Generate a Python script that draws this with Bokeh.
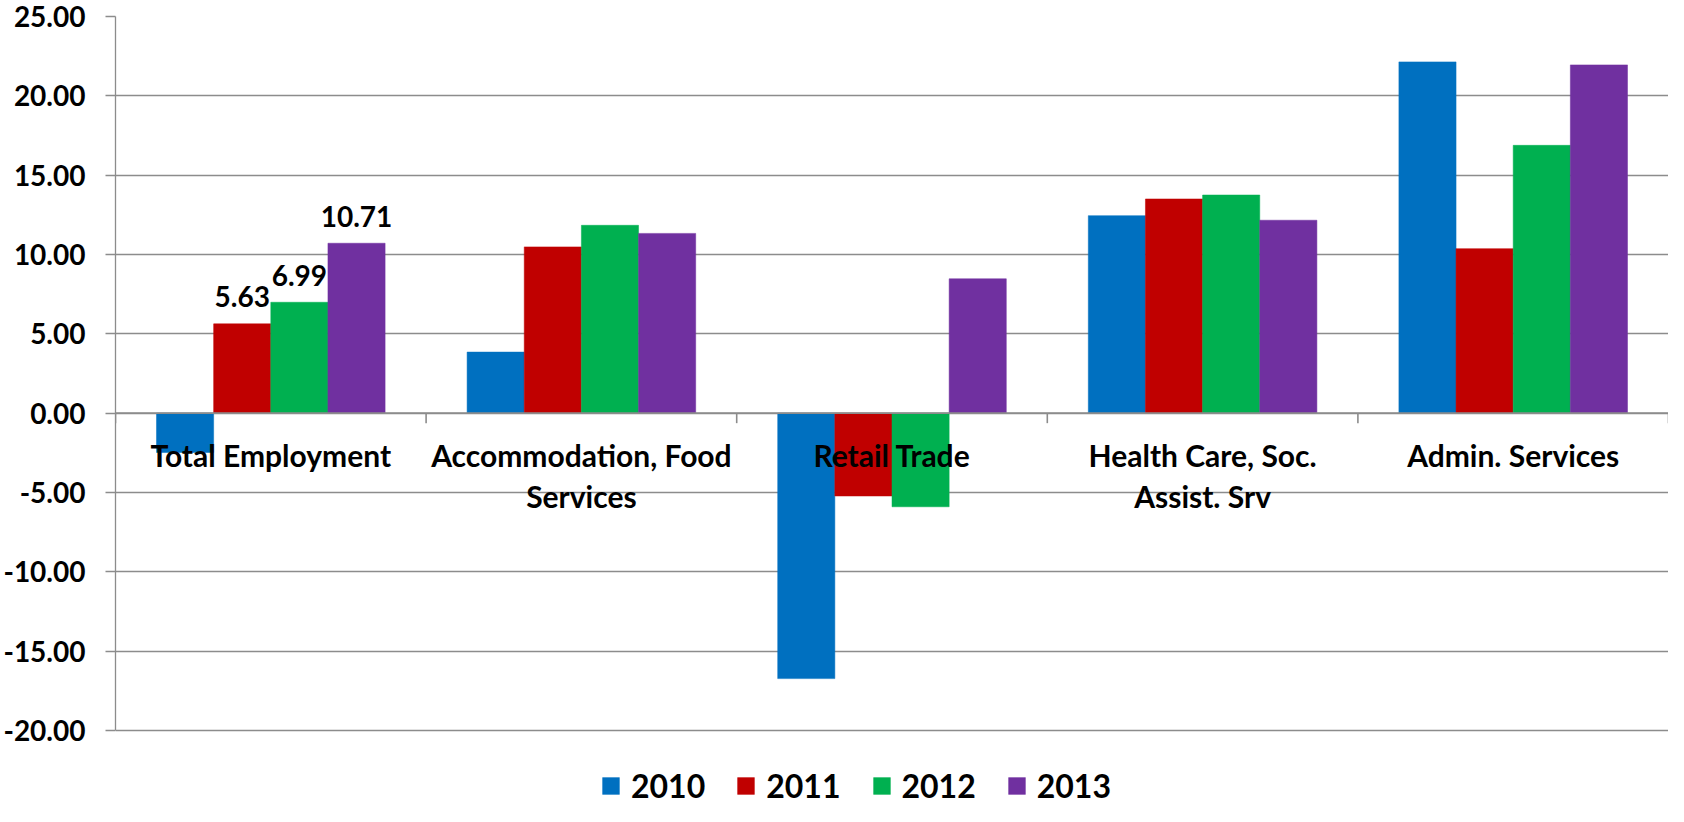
from bokeh.plotting import figure
from bokeh.models import FixedTicker, Legend, LegendItem, NumeralTickFormatter, ColumnDataSource, Span
from bokeh.core.properties import value
from bokeh.embed import file_html
from bokeh.resources import INLINE

# ---------------- data ----------------
categories = ["Total Employment", "Accommodation, Food\nServices", "Retail Trade",
              "Health Care, Soc.\nAssist. Srv", "Admin. Services"]
years = ["2010", "2011", "2012", "2013"]
v2010 = [-2.48, 3.85, -16.73, 12.45, 22.14]
v2011 = [5.63, 10.48, -5.22, 13.50, 10.37]
v2012 = [6.99, 11.84, -5.90, 13.75, 16.88]
v2013 = [10.71, 11.33, 8.47, 12.16, 21.95]
y_ticks = [-20, -15, -10, -5, 0, 5, 10, 15, 20, 25]
labelled_category = 0            # only "Total Employment" bars carry data labels
labelled_years = [1, 2, 3]       # 2011, 2012, 2013

series = [v2010, v2011, v2012, v2013]
colors = ["#0070C0", "#C00000", "#00B050", "#7030A0"]

FONT = "Lato"
GRAY = "#8c8c8c"
BAR_W = 0.184
Y_MIN, Y_MAX = -20, 25

W, H = 1668, 806
TOP = 16                 # frame top (px)
AXIS_BOTTOM = 730        # pixel row of Y_MIN
px_per_unit = (AXIS_BOTTOM - TOP) / (Y_MAX - Y_MIN)
y_low = Y_MAX - (H - TOP) / px_per_unit   # frame extends down to hold the legend

p = figure(width=W, height=H, x_range=(0, len(categories)), y_range=(y_low, Y_MAX),
           output_backend="svg", toolbar_location=None, x_axis_location=None,
           min_border_left=107, min_border_right=0, min_border_top=TOP, min_border_bottom=0)
p.outline_line_color = None
p.background_fill_color = "white"
p.border_fill_color = "white"
p.xgrid.visible = False
p.ygrid.ticker = FixedTicker(ticks=y_ticks)
p.ygrid.grid_line_color = GRAY
p.ygrid.grid_line_width = 1.3

ya = p.yaxis[0]
ya.bounds = (Y_MIN, Y_MAX)
ya.ticker = FixedTicker(ticks=y_ticks)
ya.formatter = NumeralTickFormatter(format="0.00")
ya.axis_line_color = GRAY
ya.axis_line_width = 1.3
ya.major_tick_line_color = GRAY
ya.major_tick_line_width = 1.3
ya.major_tick_out = 10
ya.major_tick_in = 0
ya.minor_tick_line_color = None
ya.major_label_standoff = 20
ya.major_label_text_font = FONT
ya.major_label_text_font_style = "bold"
ya.major_label_text_font_size = "28px"
ya.major_label_text_color = "black"

centers = [k + 0.5 for k in range(len(categories))]
renderers = []
for i, (vals, col) in enumerate(zip(series, colors)):
    xs = [c + (i - 1.5) * BAR_W for c in centers]
    src = ColumnDataSource(dict(x=xs, top=vals))
    r = p.vbar(x="x", top="top", bottom=0, width=BAR_W, source=src,
               fill_color=col, line_color=col, line_width=0.5)
    renderers.append(r)

# zero axis line with category-boundary tick marks (10 px long)
p.add_layout(Span(location=0, dimension="width", line_color=GRAY, line_width=1.6))
tick_len = 10 / px_per_unit
bounds = list(range(len(categories) + 1))
p.segment(x0=bounds, y0=[0] * len(bounds), x1=bounds, y1=[-tick_len] * len(bounds),
          line_color=GRAY, line_width=1.6)

# data labels
lx = [centers[labelled_category] + (i - 1.5) * BAR_W for i in labelled_years]
ly = [series[i][labelled_category] for i in labelled_years]
lt = [f"{v:.2f}" for v in ly]
p.text(x=lx, y=ly, text=lt, text_align="center", text_baseline="alphabetic", y_offset=-27,
       text_font=value(FONT), text_font_style="bold", text_font_size="28px", text_color="black")

# category labels (drawn next to the zero axis, over the bars)
p.text(x=centers, y=[0] * len(categories), text=categories, text_align="center",
       text_baseline="top", y_offset=24, text_font=value(FONT), text_font_style="bold",
       text_font_size="30px", text_color="black", text_line_height=1.14)

legend = Legend(items=[LegendItem(label=y, renderers=[r]) for y, r in zip(years, renderers)],
                orientation="horizontal", location=(485, 1),
                label_text_font=FONT, label_text_font_style="bold", label_text_font_size="32px",
                label_text_color="black", border_line_color=None, background_fill_alpha=0,
                glyph_width=21, glyph_height=21, label_standoff=10, spacing=30, padding=0, margin=0)
p.add_layout(legend, "center")

open("out.html", "w").write(file_html(p, INLINE))
